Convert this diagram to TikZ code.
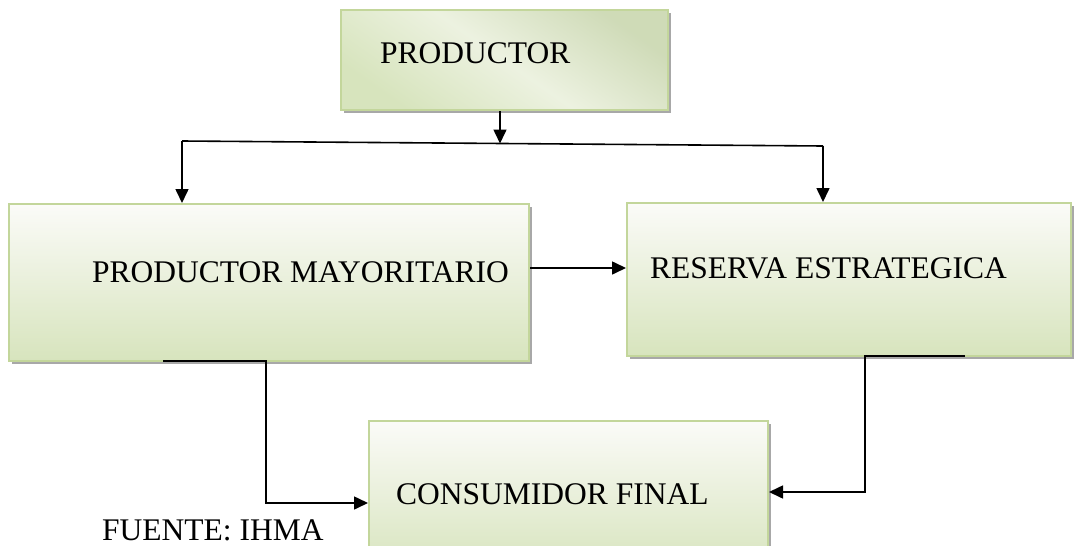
\documentclass[tikz,border=0pt]{standalone}
\usepackage{fontspec}
\setmainfont{Liberation Serif}
\usetikzlibrary{arrows.meta,shadows}
\definecolor{borde}{HTML}{C3D69B}
\definecolor{verde}{HTML}{D7E4BD}
\definecolor{claro}{HTML}{FBFBF8}
\tikzset{
  caja/.style={draw=borde, line width=2pt, rectangle, inner sep=0pt,
    top color=claro, bottom color=verde,
    drop shadow={shadow xshift=3pt, shadow yshift=-3pt, fill=gray!85, opacity=0.8}},
  texto/.style={anchor=west, inner sep=0pt, font=\fontsize{31.5}{36}\selectfont},
  flecha/.style={line width=1.6pt, -{Triangle[length=14pt,width=13pt]}}
}
\begin{document}
\begin{tikzpicture}[x=1pt,y=-1pt]
  % marco de la imagen
  \clip (0,0) rectangle (1074,546);
  \fill[white] (0,0) rectangle (1074,546);
  % cajas
  \node[caja, minimum width=327pt, minimum height=100pt,
    top color=verde!95!black!95, bottom color=verde, middle color=claro!60!verde,
    shading angle=-35] (prod) at (504.5,60) {};
  \node[caja, minimum width=520pt, minimum height=157pt] (pm) at (269,282.5) {};
  \node[caja, minimum width=444pt, minimum height=153pt] (res) at (849,279.5) {};
  \node[caja, minimum width=399pt, minimum height=150pt] (cons) at (568.5,496) {};
  % textos
  \node[texto] (prodt) at (380,53) {PRODUCTOR};
  \node[texto] (pmt) at (92,272) {PRODUCTOR MAYORITARIO};
  \node[texto] (rest) at (650,268) {RESERVA ESTRATEGICA};
  \node[texto] (const) at (396,494) {CONSUMIDOR FINAL};
  \node[texto] (fuente) at (102,530) {FUENTE: IHMA};
  % reparto desde el productor
  \coordinate (jl) at (182,141);
  \coordinate (jm) at (500,143.5);
  \coordinate (jr) at (823,146);
  \draw[line width=1.6pt] (jl) -- (jr);
  \draw[flecha] (jm |- prod.south) -- (jm);
  \draw[flecha] (jl) -- (jl |- pm.north);
  \draw[flecha] (jr) -- (jr |- res.north);
  % mayorista a reserva
  \draw[flecha] (pm.east |- 0,268) -- (res.west |- 0,268);
  % hacia el consumidor final
  \draw[flecha] (163,361) -- (266,361) -- (266,503) -- (cons.west |- 0,503);
  \draw[flecha] (965,356) -- (865,356) -- (865,492) -- (cons.east |- 0,492);
\end{tikzpicture}
\end{document}
